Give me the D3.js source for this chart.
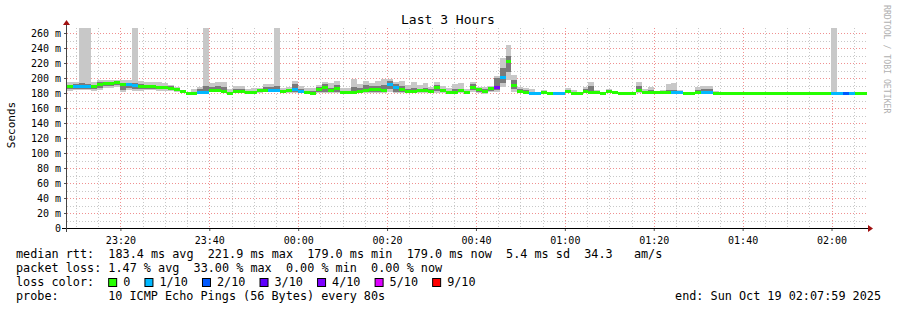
<!DOCTYPE html>
<html>
<head>
<meta charset="utf-8">
<script src="https://cdn.jsdelivr.net/npm/d3@7"></script>
<style>
  body { margin: 0; background: #fff; }
  text { font-family: "DejaVu Sans Mono", monospace; }
</style>
</head>
<body>
<div id="chart"></div>
<script>
var
  width = 897,
  height = 310;

// 80 s steps over the last 3 hours
var stepSeconds = 80;
var startTime = new Date(2025, 9, 18, 23, 7, 59);
var endTime = new Date(2025, 9, 19, 2, 7, 59);

var medianRtt = [
  189.3,189.3,188.9,188.4,188.9,191.6,192.4,192.9,194.2,191.6,
  191.6,190.2,188.4,188.4,188.4,187.6,187.1,186.2,184.9,182.2,
  180.0,180.0,180.4,181.3,182.7,182.7,182.2,179.6,181.8,181.8,
  180.4,180.4,182.7,183.6,183.6,183.6,181.8,183.1,184.9,182.2,
  181.3,180.0,185.3,187.1,182.7,186.2,180.4,180.4,180.9,181.8,
  184.0,184.9,184.9,183.6,192.0,187.6,184.9,182.2,182.2,182.7,
  182.7,182.2,187.1,184.0,180.9,181.3,182.7,180.9,188.0,184.9,
  182.2,186.2,188.0,200.9,221.9,190.2,181.8,181.3,180.0,179.0,
  180.4,179.1,179.6,179.1,182.2,179.6,180.0,181.8,181.3,180.9,
  180.0,182.2,180.9,180.0,180.0,180.0,182.7,181.3,181.3,180.4,
  180.9,180.9,180.4,180.4,179.0,179.0,180.4,180.9,181.3,180.0,
  179.1,179.1,179.1,180.0,179.6,179.6,179.6,179.6,179.6,179.6,
  179.6,180.0,179.1,179.6,180.0,180.0,179.1,179.1,179.1,180.0,
  180.0,179.6,179.1,179.6,179.0
];

var lossPct = [
  0,10,10,10,0,0,0,0,0,0,
  10,10,0,0,0,0,0,0,0,0,
  0,0,10,10,0,0,0,0,0,0,
  0,0,0,0,10,10,0,0,10,10,
  0,0,0,0,0,0,0,0,0,0,
  0,0,0,0,10,10,0,0,0,0,
  0,0,0,0,0,0,0,0,0,0,
  0,0,33,10,0,0,0,0,10,10,
  0,0,10,10,0,0,0,0,0,0,
  0,0,0,0,0,0,0,0,0,0,
  0,0,10,10,0,0,0,10,10,0,
  0,0,0,0,0,0,0,0,0,0,
  0,0,0,0,0,0,0,0,0,10,
  10,20,10,0,0
];

// outer smoke (fastest / slowest ping); 270 = lost ping, drawn to the top
var smokeHi = [
  195.1,195.1,270,270,194.2,197.3,196.9,196.9,197.3,196.9,
  196.9,270,196.4,195.1,195.1,194.2,192.9,190.7,188.4,184.0,
  181.8,185.3,188.4,270,192.9,195.1,195.1,185.3,189.3,189.3,
  184.9,186.2,186.2,192.0,192.0,270,187.1,188.4,196.0,189.3,
  186.2,187.1,190.7,195.1,192.9,196.0,187.1,186.2,198.2,191.6,
  196.0,192.9,196.0,198.2,198.2,195.1,196.0,190.7,194.2,190.7,
  192.9,188.4,194.2,189.3,187.1,191.6,192.9,185.3,195.1,188.4,
  188.4,189.3,202.7,226.2,244.0,204.0,188.4,187.1,185.3,181.8,
  184.0,181.8,180.9,180.9,187.1,183.6,181.8,188.4,195.1,184.0,
  181.8,185.3,182.7,180.9,180.9,181.8,195.1,185.3,188.4,181.8,
  183.6,191.6,193.8,184.0,180.0,180.0,188.0,189.3,189.3,182.7,
  180.0,180.4,180.4,180.4,180.4,180.4,180.4,180.4,180.4,180.4,
  180.4,180.4,180.4,180.4,180.4,180.4,180.4,180.4,180.4,270,
  181.3,180.9,180.4,181.3,180.9
];

var smokeLo = [
  182.7,184.0,184.0,184.0,182.7,184.0,187.1,187.1,188.4,181.8,
  184.0,182.7,182.7,184.0,184.0,182.7,182.7,182.7,181.8,179.6,
  179.1,179.1,179.1,179.6,181.8,181.8,180.9,178.2,179.6,180.0,
  179.1,179.6,180.0,181.8,180.9,181.8,179.6,180.4,179.6,180.0,
  179.1,177.3,180.4,179.6,180.0,180.4,179.6,179.6,179.6,179.6,
  180.0,179.6,180.0,179.6,181.8,179.6,180.4,179.6,180.0,180.0,
  180.0,179.6,180.4,180.0,179.6,179.6,180.0,179.6,181.8,179.6,
  179.1,181.8,181.8,188.4,197.3,181.8,179.6,179.1,178.7,177.3,
  179.1,178.2,178.7,178.2,180.0,178.2,179.1,179.6,179.6,179.6,
  179.1,179.6,179.6,179.1,179.1,179.1,179.6,179.6,179.6,179.1,
  179.6,179.6,179.6,179.6,177.8,177.8,179.6,179.6,179.6,178.7,
  178.2,178.7,178.7,178.7,178.7,178.7,178.7,178.7,178.7,178.7,
  178.7,178.7,178.7,178.7,178.7,178.7,178.7,178.7,178.7,179.1,
  179.1,178.7,178.7,178.7,178.7
];

// inner smoke (middle pings)
var coreHi = [
  191,192,193,192,191,195,195,195,196,194,
  194,193,192,191,191,190,190,189,187,183,
  181,182,185,189,188,190,188,182,185,186,
  182,183,184,188,188,190,184,186,192,186,
  183,183,188,192,187,191,183,183,188,187,
  191,189,190,191,196,192,190,186,187,186,
  187,185,191,186,183,185,186,182,192,186,
  185,188,200,214,229,198,185,184,182,180.5,
  182,180.5,180,180,184,181,181,185,190,182,
  181,183,182,180.5,180.5,180.7,190,183,184,181,
  182,184,184,182,179.5,179.5,184,185,186,181.5,
  179.6,179.8,179.8,179.8,179.8,179.8,179.8,179.8,179.8,179.8,
  179.8,179.8,179.8,179.8,179.8,179.8,179.8,179.8,179.8,182,
  180.6,180.3,179.8,180.4,180.2
];

var coreLo = [
  186,186,185,185,185,187,189,190,191,184,
  187,185,185,186,186,185,185,184,183,180,
  179.5,179.5,179.5,180,181,181,181,178.5,180,180.5,
  179.5,179.5,181,182,181.5,182,180,181,181,180.5,
  179.5,178.5,182,182,181,182,179.5,179.5,180,180,
  181,181,181,181,186,182,182,180,180.5,181,
  181,180.5,183,181,179.5,180,181,180,184,181,
  180,183,184,193,208,186,180.5,180,179.5,178,
  179.5,178.5,179,178.7,181,179,179.5,180.5,180.5,180,
  179.5,180.5,180,179.5,179.5,179.5,181,180.5,180.5,179.5,
  180,180,180,180,178.5,178.5,180,180.5,180.5,179.3,
  178.7,178.9,178.9,178.9,178.9,178.9,178.9,178.9,178.9,178.9,
  178.9,178.9,178.9,178.9,178.9,178.9,178.9,178.9,178.9,179.5,
  179.5,179.2,179,179.2,179
];

var yTicks = [0, 20, 40, 60, 80, 100, 120, 140, 160, 180, 200, 220, 240, 260];
var yMinor = [10, 30, 50, 70, 90, 110, 130, 150, 170, 190, 210, 230, 250];

var lossLevels = [0, 1, 2, 3, 4, 5, 9];
var lossLabels = ["0", "1/10", "2/10", "3/10", "4/10", "5/10", "9/10"];
var lossColors = ["#26ff00", "#00b8ff", "#0059ff", "#5e00ff", "#7e00ff", "#dd00ff", "#ff0000"];

var statLines = [
  "median rtt:  183.4 ms avg  221.9 ms max  179.0 ms min  179.0 ms now  5.4 ms sd  34.3   am/s",
  "packet loss: 1.47 % avg  33.00 % max  0.00 % min  0.00 % now"
];
var probeText = "10 ICMP Echo Pings (56 Bytes) every 80s";
var endText = "end: Sun Oct 19 02:07:59 2025";

var plotLeft = 67, plotRight = 867, plotTop = 28, plotBottom = 228;
var cw = 7.09;

var svg = d3.select("#chart")
  .append("svg")
  .attr("width", width)
  .attr("height", height);

var x = d3.scaleTime().domain([startTime, endTime]).range([plotLeft, plotRight]);
var y = d3.scaleLinear().domain([0, 266.67]).range([plotBottom, plotTop]);

function lossColor(p) {
  var tenths = p / 10;
  for (var i = 0; i < lossLevels.length; i++) {
    if (tenths <= lossLevels[i]) return lossColors[i];
  }
  return lossColors[lossColors.length - 1];
}

// grid
var grid = svg.append("g");
grid.selectAll(".hminor").data(yMinor).enter().append("line")
  .attr("x1", plotLeft).attr("x2", plotRight)
  .attr("y1", function(d) { return Math.round(y(d)) + 0.5; })
  .attr("y2", function(d) { return Math.round(y(d)) + 0.5; })
  .attr("stroke", "#c8c8c8").attr("stroke-dasharray", "1,2");
grid.selectAll(".vminor").data(x.ticks(d3.timeMinute.every(5))).enter().append("line")
  .attr("x1", function(d) { return Math.round(x(d)) + 0.5; })
  .attr("x2", function(d) { return Math.round(x(d)) + 0.5; })
  .attr("y1", plotTop).attr("y2", plotBottom)
  .attr("stroke", "#c8c8c8").attr("stroke-dasharray", "1,2");
grid.selectAll(".hmajor").data(yTicks.slice(1)).enter().append("line")
  .attr("x1", plotLeft).attr("x2", plotRight)
  .attr("y1", function(d) { return Math.round(y(d)) + 0.5; })
  .attr("y2", function(d) { return Math.round(y(d)) + 0.5; })
  .attr("stroke", "#f09090").attr("stroke-dasharray", "1,2");
grid.selectAll(".vmajor").data(x.ticks(d3.timeMinute.every(20))).enter().append("line")
  .attr("x1", function(d) { return Math.round(x(d)) + 0.5; })
  .attr("x2", function(d) { return Math.round(x(d)) + 0.5; })
  .attr("y1", plotTop).attr("y2", plotBottom)
  .attr("stroke", "#f09090").attr("stroke-dasharray", "1,2");

// smoke and median
var bins = medianRtt.map(function(m, i) {
  return {
    t0: new Date(startTime.getTime() + i * stepSeconds * 1000),
    t1: new Date(startTime.getTime() + (i + 1) * stepSeconds * 1000),
    med: m, loss: lossPct[i],
    lo: smokeLo[i], hi: Math.min(smokeHi[i], 266.67),
    clo: coreLo[i], chi: coreHi[i]
  };
});

function bx(d) { return x(d.t0); }
function bw(d) { return Math.min(x(d.t1), plotRight) - x(d.t0); }

var plot = svg.append("g").attr("shape-rendering", "crispEdges");
plot.selectAll(".smoke").data(bins).enter().append("rect")
  .attr("x", bx).attr("width", bw)
  .attr("y", function(d) { return y(d.hi); })
  .attr("height", function(d) { return y(d.lo) - y(d.hi); })
  .attr("fill", "#c8c8c8");
plot.selectAll(".core").data(bins).enter().append("rect")
  .attr("x", bx).attr("width", bw)
  .attr("y", function(d) { return y(d.chi); })
  .attr("height", function(d) { return y(d.clo) - y(d.chi); })
  .attr("fill", "#7a7a7a");
plot.selectAll(".median").data(bins).enter().append("rect")
  .attr("x", bx).attr("width", bw)
  .attr("y", function(d) { return y(d.med) - 1.5; })
  .attr("height", 3)
  .attr("fill", function(d) { return lossColor(d.loss); });

// axes
var yAxis = d3.axisLeft(y).tickValues(yTicks).tickSize(3).tickPadding(3)
  .tickFormat(function(d) { return d === 0 ? "0" : d + " m"; });
var gy = svg.append("g").attr("transform", "translate(" + plotLeft + ",0)").call(yAxis);
gy.select(".domain").remove();
gy.selectAll("text").attr("font-family", "DejaVu Sans Mono").attr("font-size", 10).attr("fill", "#000");
gy.selectAll("line").attr("stroke", "#555");

var xAxis = d3.axisBottom(x).ticks(d3.timeMinute.every(20)).tickSize(3).tickPadding(6)
  .tickFormat(d3.timeFormat("%H:%M"));
var gx = svg.append("g").attr("transform", "translate(0," + plotBottom + ")").call(xAxis);
gx.select(".domain").remove();
gx.selectAll("text").attr("font-family", "DejaVu Sans Mono").attr("font-size", 10).attr("fill", "#000");
gx.selectAll("line").attr("stroke", "#555");

svg.append("line").attr("x1", plotLeft - 5).attr("x2", plotRight + 2)
  .attr("y1", plotBottom + 0.5).attr("y2", plotBottom + 0.5).attr("stroke", "#000");
svg.append("line").attr("x1", plotLeft - 0.5).attr("x2", plotLeft - 0.5)
  .attr("y1", plotBottom + 4).attr("y2", plotTop - 4).attr("stroke", "#444");
svg.append("path").attr("d", "M" + (plotRight + 1) + "," + (plotBottom - 3) + "L" + (plotRight + 6) + "," + (plotBottom + 0.5) + "L" + (plotRight + 1) + "," + (plotBottom + 4) + "Z")
  .attr("fill", "#a01010");
svg.append("path").attr("d", "M" + (plotLeft - 4) + "," + (plotTop - 3) + "L" + (plotLeft - 0.5) + "," + (plotTop - 8) + "L" + (plotLeft + 3) + "," + (plotTop - 3) + "Z")
  .attr("fill", "#a01010");

// titles
svg.append("text").attr("x", 448).attr("y", 24).attr("text-anchor", "middle")
  .attr("font-size", 13).text("Last 3 Hours");
svg.append("text").attr("transform", "translate(15,125) rotate(-90)").attr("text-anchor", "middle")
  .attr("font-size", 11).text("Seconds");
svg.append("text").attr("transform", "translate(884,5) rotate(90)")
  .attr("font-size", 8.2).attr("fill", "#b0b0b0").text("RRDTOOL / TOBI OETIKER");

// legend
var legend = svg.append("g").attr("font-size", 11.8).attr("fill", "#000");
legend.selectAll(".stat").data(statLines).enter().append("text")
  .attr("x", 16).attr("y", function(d, i) { return 258 + i * 14; })
  .style("white-space", "pre").text(function(d) { return d; });
legend.append("text").attr("x", 16).attr("y", 286).text("loss color:");
var bx0 = 16 + 13 * cw, pos = [];
lossLabels.forEach(function(l) { pos.push(bx0); bx0 += 15 + l.length * cw + 2 * cw; });
var items = legend.selectAll(".lc").data(lossLabels).enter().append("g")
  .attr("transform", function(d, i) { return "translate(" + pos[i] + ",0)"; });
items.append("rect").attr("x", 0.5).attr("y", 278.5).attr("width", 8).attr("height", 8)
  .attr("fill", function(d, i) { return lossColors[i]; }).attr("stroke", "#000");
items.append("text").attr("x", 15).attr("y", 286).text(function(d) { return d; });
legend.append("text").attr("x", 16).attr("y", 300).text("probe:");
legend.append("text").attr("x", 16 + 13 * cw).attr("y", 300).text(probeText);
legend.append("text").attr("x", 881).attr("y", 300).attr("text-anchor", "end").text(endText);
</script>
</body>
</html>
